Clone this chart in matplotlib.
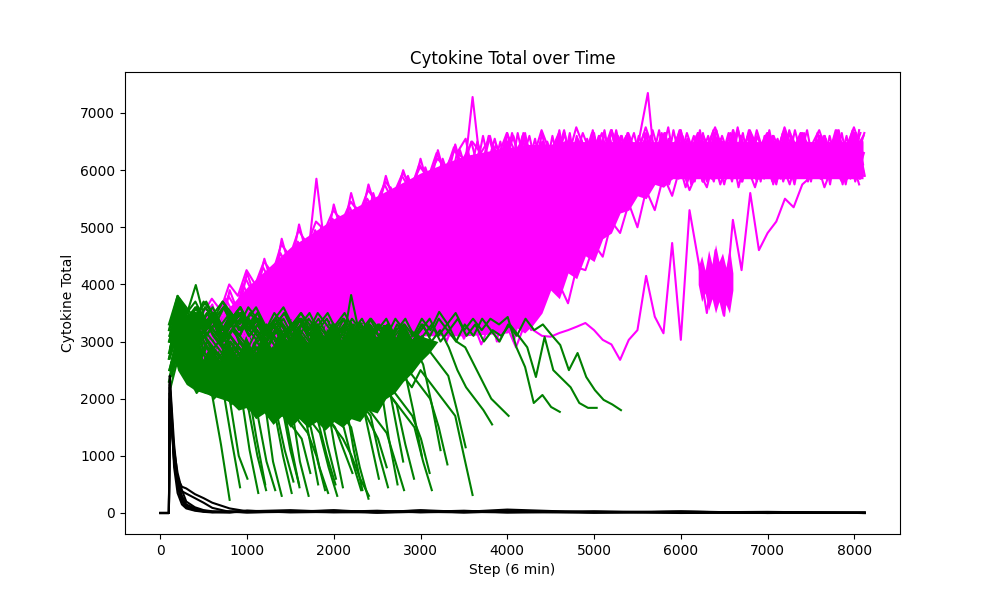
"""Cytokine total per simulated run, coloured by outcome."""

import matplotlib

matplotlib.use("Agg")
import matplotlib.pyplot as plt
import numpy as np

STEP = 100

MAGENTA_CORE_STEPS = [650, 1000, 1500, 2000, 2500, 3000, 3500, 4000, 4100, 4200,
                      4300, 4400, 4500, 4600, 4700, 4800, 4900, 5000, 5100, 5200,
                      5300, 5400, 5500, 5600, 5700, 5800, 5900, 7000, 8100]
MAGENTA_CORE_LOW = [3100, 3100, 3100, 3100, 3100, 3100, 3100, 3150, 3250, 3150,
                    3300, 3500, 3900, 3750, 4200, 4100, 4500, 4400, 4800, 4900,
                    5250, 5300, 5550, 5500, 5750, 5700, 5850, 5850, 5850]
MAGENTA_CORE_HIGH = [3350, 3950, 4650, 5150, 5550, 5950, 6250, 6400, 6400, 6450,
                     6450, 6450, 6450, 6500, 6500, 6500, 6500, 6500, 6500, 6500,
                     6500, 6500, 6500, 6500, 6500, 6500, 6500, 6500, 6500]

# the slow run's noisy stretch near step 6400
MAGENTA_DIP_STEPS = [6200, 6240, 6280, 6320, 6360, 6400, 6440, 6480, 6520, 6560, 6600]
MAGENTA_DIP_LOW = [4000, 3700, 3850, 3550, 3750, 3500, 3700, 3450, 3650, 3500, 3900]
MAGENTA_DIP_HIGH = [4300, 4500, 4250, 4600, 4350, 4700, 4400, 4550, 4300, 4650, 4200]

GREEN_CORE_STEPS = [150, 200, 300, 400, 500, 600, 700, 800, 900, 1000,
                    1100, 1200, 1300, 1400, 1500, 1600, 1700, 1800, 1900, 2000,
                    2100, 2200, 2300, 2400, 2500, 2600, 2700, 2800, 2900, 3000,
                    3100, 3200]
GREEN_CORE_LOW = [2800, 2500, 2250, 2150, 2100, 2050, 2000, 1950, 1800, 1850,
                  1650, 1750, 1550, 1700, 1500, 1650, 1500, 1600, 1450, 1600,
                  1500, 1650, 1600, 1800, 1750, 2000, 2100, 2300, 2450, 2650,
                  2800, 3000]
GREEN_CORE_HIGH = [3300, 3500, 3400, 3450, 3450, 3450, 3450, 3400, 3450, 3400,
                   3450, 3400, 3400, 3450, 3400, 3400, 3400, 3350, 3400, 3350,
                   3400, 3350, 3350, 3300, 3300, 3300, 3250, 3250, 3200, 3100,
                   3050, 3000]

# runs that climb to the high plateau (one value every 100 steps from each start)
MAGENTA_STARTS = [500, 520, 470, 510, 460, 490, 450, 480, 455, 475,
                  500, 500, 465, 485, 505, 515, 495, 455, 475]
MAGENTA_RUNS = [
    [3400, 3650, 3150, 3900, 3500, 4200, 3750, 4450, 3950, 4800,
     4250, 5050, 4450, 5850, 4600, 5400, 4850, 5600, 5050, 5750,
     5250, 5900, 5400, 6000, 5550, 6200, 5650, 6350, 5800, 6450,
     5900, 7280, 5950, 6600, 6000, 6650, 5900, 6600, 5850, 6650,
     5900, 6700, 5800, 6600, 6000, 6650, 5850, 6700, 5950, 6600,
     5800, 6650, 5900, 6600, 5850, 6700, 6000, 6650, 5800, 6600,
     5900, 6700, 5850, 6650, 5950, 6600, 5800, 6700, 5900, 6650,
     5850, 6600, 5950, 6700, 5800, 6650, 6000],
    [3100, 3400, 3000, 3600, 3250, 3850, 3400, 4050, 3600, 4300,
     3850, 4500, 4050, 4700, 4200, 4950, 4400, 5100, 4600, 5300,
     4800, 5450, 5000, 5600, 5200, 5800, 5400, 6000, 5600, 6300,
     6550, 5800, 6600, 5900, 6500, 5750, 6650, 5950, 6550, 5800,
     6600, 5900, 6650, 5750, 6550, 6000, 6700, 5850, 6600, 5900,
     6550, 7350, 5800, 6650, 5950, 6600, 5750, 6700, 5900, 6550,
     5850, 6650, 5900, 6600, 5800, 6700, 5950, 6550, 5850, 6650,
     5900, 6600, 5750, 6700, 5850, 6650, 5900],
    [2900, 3300, 2850, 3450, 3050, 3600, 3150, 3700, 3300, 3900,
     3450, 4050, 3600, 4250, 3750, 4400, 3900, 4550, 4050, 4700,
     4250, 4850, 4400, 5050, 4600, 5200, 4800, 5400, 5000, 5600,
     5300, 5900, 6300, 6000, 6450, 6100, 6600, 6050, 6300, 5800,
     6200, 6000, 6500, 6150, 6650, 6250, 5900, 6450, 6100, 6600,
     6000, 6400, 5850, 6300, 6550, 6100, 6650, 6200, 6000, 6500,
     6150, 6650, 6250, 5950, 6400, 6050, 6600, 6200, 6450, 5900,
     6300, 6100, 6550, 6000, 6450, 6200, 6650],
    [2800, 3150, 2750, 3300, 2900, 3400, 3000, 3500, 3100, 3650,
     3250, 3800, 3400, 3950, 3500, 4100, 3650, 4250, 3800, 4400,
     3950, 4550, 4100, 4700, 4250, 4850, 4400, 5000, 4600, 5200,
     4800, 5400, 5000, 5650, 5300, 6000, 5800, 6400, 5900, 6500,
     5750, 6300, 5850, 6550, 6050, 6400, 5800, 6250, 6600, 5950,
     6450, 5800, 6200, 6650, 6000, 6350, 5850, 6500, 6100, 6700,
     5950, 6300, 5800, 6500, 6050, 6650, 5900, 6350, 5750, 6550,
     6100, 5850, 6450, 6000, 6600, 5800, 6300],
    [3000, 3300, 2900, 3350, 3000, 3450, 3050, 3500, 3150, 3550,
     3250, 3700, 3300, 3800, 3400, 3900, 3500, 4000, 3600, 4150,
     3700, 4300, 3850, 4450, 4000, 4600, 4150, 4750, 4300, 4900,
     4500, 5100, 4700, 5300, 4900, 5500, 5150, 5800, 6200, 5900,
     6500, 6050, 6650, 5900, 6350, 6100, 6600, 5850, 6400, 6200,
     6650, 6000, 6300, 5900, 6550, 6150, 6450, 5800, 6600, 6250,
     6450, 5900, 6700, 6100, 6300, 5850, 6550, 6200, 6650, 5950,
     6400, 6150, 6600, 5900, 6350, 6550, 6050],
    [2700, 3000, 2650, 3100, 2750, 3150, 2800, 3250, 2900, 3300,
     3000, 3400, 3050, 3500, 3150, 3600, 3250, 3700, 3350, 3800,
     3450, 3950, 3550, 4100, 3700, 4250, 3850, 4400, 4000, 4550,
     4150, 4750, 4350, 4950, 4500, 5200, 4800, 5500, 5200, 5900,
     5800, 6350, 6000, 6500, 5850, 6250, 6650, 6050, 6400, 5800,
     6200, 6550, 5950, 6400, 6100, 6650, 5900, 6250, 6500, 6000,
     6350, 5800, 6600, 6150, 6450, 5950, 6250, 6700, 6000, 6400,
     5850, 6500, 6200, 6650, 5950, 6300, 6500],
    [2900, 3200, 2800, 3250, 2850, 3300, 2950, 3350, 3000, 3400,
     3050, 3450, 3100, 3500, 3150, 3550, 3200, 3600, 3250, 3650,
     3300, 3700, 3350, 3800, 3450, 3900, 3550, 4000, 3650, 4150,
     3800, 4300, 3950, 4500, 4100, 4700, 4300, 4950, 4600, 5300,
     5000, 5700, 6300, 5900, 6550, 6100, 6400, 5850, 6650, 6200,
     5950, 6450, 6050, 6700, 5850, 6350, 6150, 6600, 5800, 6400,
     6100, 6650, 5900, 6300, 6550, 6000, 6450, 5850, 6700, 6150,
     6350, 5950, 6600, 6100, 6450, 5900, 6550],
    [3100, 3350, 3000, 3400, 3050, 3450, 3100, 3500, 3150, 3550,
     3200, 3600, 3250, 3650, 3300, 3700, 3350, 3750, 3400, 3800,
     3300, 3700, 3200, 3650, 3150, 3600, 3250, 3700, 3300, 3750,
     3200, 3700, 3150, 3650, 3000, 3800, 3100, 3900, 3350, 4200,
     3900, 4500, 4300, 5000, 5400, 6000, 5800, 6400, 6000, 6550,
     5900, 6300, 6100, 6650, 5850, 6450, 6000, 6600, 6200, 5800,
     6500, 6050, 6350, 5900, 6600, 6200, 6450, 5800, 6300, 6650,
     6000, 6400, 5850, 6550, 6150, 6700, 5950],
    [3200, 3500, 3300, 3750, 3450, 4000, 3650, 4150, 3850, 4350,
     4550, 4100, 4800, 4300, 5000, 4500, 5200, 4700, 5350, 4900,
     5600, 5100, 5700, 5300, 5900, 5450, 6050, 5600, 6200, 5750,
     6350, 5850, 6500, 6000, 6550, 5950, 6650, 6100, 6600, 5900,
     6450, 6150, 6700, 5950, 6500, 6050, 6600, 5800, 6700, 6000,
     6450, 5850, 6600, 6100, 6750, 5900, 6500, 6050, 6650, 5850,
     6550, 6000, 6750, 5950, 6450, 6150, 6600, 5900, 6500, 6100,
     6700, 5900, 6550, 6050, 6650, 5850, 6700],
    [3000, 3350, 3100, 3550, 3250, 3700, 3400, 3850, 3500, 4000,
     3650, 4200, 3800, 4400, 3950, 4550, 4100, 4700, 4250, 4850,
     4400, 5000, 4550, 5150, 4750, 5350, 4950, 5550, 5150, 5800,
     5400, 6000, 5700, 6250, 5900, 6450, 6050, 6600, 5850, 6400,
     6100, 6550, 5900, 6350, 6150, 6650, 5950, 6250, 6600, 6050,
     6400, 5950, 6700, 6150, 6350, 5850, 6550, 6250, 6450, 6050,
     6600, 6150, 6400, 6000, 6700, 6200, 6350, 6050, 6600, 6250,
     5900, 6650, 6150, 6400, 6050, 6600, 6250],
    # slow run whose dip reaches 2700 near step 5300
    [2900, 3200, 2850, 3250, 2900, 3300, 2950, 3250, 3000, 3350,
     3050, 3350, 3000, 3400, 3100, 3450, 3050, 3400, 3150, 3500,
     3100, 3450, 3050, 3400, 3000, 3350, 3100, 3450, 3000, 3400,
     3050, 3350, 2950, 3300, 3000, 3250, 2900, 3300, 3200, 3100,
     3085, 3150, 3200, 3260, 3325, 3200, 3030, 2950, 2680, 3030,
     3200, 4150, 3435, 3145, 4725, 3030, 5300, 4430, 3500, 4600,
     3450, 5130, 4250, 5600, 4600, 4900, 5100, 5500, 5350, 5750,
     5885, 6300, 5900, 6500, 5950, 6650, 6100],
    # run that climbs back between step 4500 and 5700
    [3000, 3300, 2950, 3350, 3050, 3400, 3100, 3450, 3150, 3500,
     3200, 3550, 3250, 3600, 3300, 3650, 3350, 3700, 3400, 3750,
     3450, 3800, 3500, 3850, 3550, 3900, 3600, 3950, 3650, 4000,
     3700, 4100, 3750, 4200, 3800, 4300, 3900, 4400, 4000, 4500,
     4550, 4000, 3670, 4300, 4250, 4700, 4485, 5100, 4900, 5420,
     5000, 5650, 5300, 5900, 5550, 6100, 5650, 6000, 5700, 6300,
     5750, 6400, 5800, 6500, 5850, 6300, 5750, 6550, 5900, 6400,
     5800, 6600, 5950, 6450, 5750, 6500, 5900],
    [3200, 3500, 3150, 3600, 3250, 3700, 3300, 3750, 3400, 3800,
     3350, 3850, 3450, 3900, 3500, 3950, 3400, 3850, 3550, 4000,
     3600, 4050, 3500, 3950, 3650, 4100, 3550, 4000, 3700, 4150,
     3900, 4400, 3700, 4300, 3500, 4200, 3350, 4000, 3600, 4300,
     4900, 5500, 5900, 6200, 5800, 6450, 5750, 6300, 5900, 6550,
     5650, 6200, 5800, 6450, 5750, 6300, 5900, 6550, 5800, 6250,
     5950, 6500, 5700, 6350, 5850, 6600, 5750, 6450, 6000, 6300,
     5800, 6550, 5900, 6400, 5750, 6600, 5850],
    [3300, 3600, 3350, 3800, 3550, 4100, 3800, 4300, 4000, 4550,
     4250, 4750, 4450, 4950, 4650, 5150, 4850, 5350, 5000, 5500,
     5250, 5750, 5450, 5900, 5650, 6100, 5850, 6300, 5950, 6400,
     6000, 6500, 5900, 6600, 6050, 6550, 5850, 6650, 6000, 6500,
     5800, 6600, 6100, 6450, 5900, 6700, 6000, 6550, 5850, 6650,
     6050, 6500, 5800, 6600, 6150, 6700, 5900, 6450, 6000, 6650,
     5850, 6550, 6100, 6700, 5950, 6500, 5800, 6600, 6050, 6650,
     5900, 6500, 6150, 6700, 5850, 6600, 6000],
    [3100, 3450, 3150, 3600, 3300, 3750, 3450, 3900, 3600, 4050,
     3750, 4250, 3900, 4400, 4100, 4600, 4250, 4750, 4400, 4950,
     4600, 5100, 4750, 5300, 4950, 5450, 5150, 5650, 5350, 5850,
     5550, 6050, 5750, 6300, 5900, 6500, 6000, 6650, 5850, 6400,
     6150, 6600, 5950, 6300, 5750, 6550, 6100, 6700, 5900, 6350,
     6050, 6650, 5800, 6450, 6200, 6600, 5950, 6300, 5850, 6550,
     6100, 6700, 5950, 6400, 6200, 6650, 5800, 6350, 6050, 6600,
     5900, 6450, 6150, 6650, 5950, 6350, 6600],
    [2800, 3100, 2900, 3250, 3000, 3350, 3050, 3450, 3150, 3550,
     3300, 3650, 3400, 3800, 3500, 3900, 3600, 4050, 3700, 4200,
     3850, 4300, 3950, 4450, 4100, 4550, 4200, 4700, 4350, 4850,
     4500, 5000, 4700, 5200, 4900, 5450, 5150, 5700, 5500, 6000,
     6300, 5850, 6550, 6000, 6400, 5800, 6650, 6100, 6350, 5900,
     6600, 6200, 6450, 5850, 6700, 6000, 6350, 6150, 6600, 5900,
     6450, 6050, 6650, 5850, 6300, 6200, 6550, 5950, 6700, 6100,
     6400, 5850, 6600, 6000, 6350, 6150, 6650],
    [3500, 3750, 3550, 4000, 3800, 4250, 4000, 4400, 4200, 4700,
     4500, 4950, 4700, 5100, 4950, 5300, 5100, 5450, 5250, 5650,
     5450, 5800, 5600, 5950, 5750, 6050, 5900, 6200, 6050, 6350,
     6200, 6500, 6300, 6550, 6250, 6650, 6300, 6600, 6200, 6700,
     6300, 6650, 6200, 6750, 6350, 6600, 6250, 6700, 6400, 6650,
     6250, 6750, 6300, 6600, 6350, 6700, 6200, 6650, 6400, 6750,
     6300, 6600, 6250, 6700, 6350, 6650, 6200, 6750, 6300, 6600,
     6400, 6700, 6250, 6650, 6350, 6750, 6300],
    [3000, 3300, 3050, 3450, 3150, 3550, 3250, 3650, 3350, 3800,
     3500, 3950, 3650, 4100, 3800, 4250, 3950, 4400, 4100, 4550,
     4250, 4700, 4400, 4850, 4550, 5000, 4700, 5150, 4850, 5300,
     5000, 5450, 5150, 5600, 5350, 5800, 5600, 6050, 5750, 6150,
     5700, 6200, 5800, 6100, 5750, 6250, 5850, 6150, 5700, 6200,
     5800, 6300, 5750, 6100, 5850, 6250, 5700, 6150, 5800, 6300,
     5750, 6200, 5850, 6100, 5700, 6250, 5800, 6150, 5750, 6300,
     5850, 6200, 5700, 6100, 5800, 6250, 5750],
    [3050, 3350, 3100, 3450, 3200, 3550, 3250, 3600, 3350, 3700,
     3400, 3800, 3500, 3900, 3600, 4000, 3650, 4100, 3750, 4200,
     3800, 4300, 3900, 4400, 4000, 4500, 4100, 4600, 4200, 4700,
     4300, 4800, 3900, 4400, 3400, 4000, 3000, 3700, 3200, 3900,
     4500, 5200, 5700, 6200, 5900, 6450, 6000, 6600, 5800, 6350,
     6150, 6650, 5900, 6400, 6050, 6550, 5850, 6300, 6100, 6700,
     5950, 6450, 6200, 6600, 5800, 6350, 6050, 6650, 5900, 6500,
     6100, 6400, 5950, 6600, 6200, 6450, 6000],
]

# runs that fade out (one value every 100 steps from each start)
GREEN_STARTS = [100, 120, 105, 130, 110, 125, 100, 135, 115, 105,
                130, 110, 120, 100, 125, 140, 105, 115, 130, 100,
                120, 110, 135, 100, 125, 115, 105, 130, 110, 120,
                100, 125, 115, 105, 130, 110, 120, 100, 135, 115,
                105, 125, 110, 130, 120]
GREEN_RUNS = [
    [2700, 3300, 2600, 2300, 2150, 2050, 1200, 230],
    [2900, 3600, 3000, 2700, 2500, 2300, 2200, 1300, 450],
    [2500, 3100, 2700, 2400, 2200, 2350, 2100, 1950, 1000, 600],
    [3100, 3700, 3100, 3300, 2900, 2700, 2500, 2300, 2100, 1100, 350],
    [2800, 3300, 3500, 3990, 3400, 3100, 2900, 2600, 2400, 2200, 1300, 500],
    [2600, 3200, 2500, 2300, 2100, 2300, 2150, 2000, 2200, 1900, 1700, 900, 400],
    [3200, 3800, 3300, 3500, 3200, 3400, 3000, 2800, 2600, 2400, 2200, 2000, 900, 300],
    [2400, 3000, 2600, 2300, 2500, 2200, 2400, 2100, 2300, 2050, 1900, 2100, 1800, 1100, 550],
    [2900, 3500, 3000, 3200, 2800, 2600, 2800, 2500, 2300, 2500, 2200, 2000, 1800, 1000, 350],
    [3000, 3700, 3400, 3600, 3300, 3500, 3200, 3400, 3000, 2800, 2600, 2400, 2200, 2000,
     1200, 450],
    [2600, 3200, 2800, 2500, 2700, 2400, 2200, 2400, 2100, 2300, 2000, 2200, 1900, 1700,
     1500, 1300, 700],
    [3100, 3600, 3200, 2900, 3100, 2800, 2600, 2800, 2500, 2700, 2400, 2200, 2400, 2100,
     1900, 900, 300],
    [3300, 3750, 3500, 3300, 3600, 3400, 3700, 3500, 3200, 3400, 3100, 2900, 2700, 2500,
     2300, 2100, 1300, 500],
    [2300, 2900, 2500, 2200, 2400, 2100, 2300, 2000, 2200, 1900, 2100, 1800, 2000, 1700,
     1900, 1600, 1400, 1000, 400],
    [3000, 3650, 3300, 3500, 3200, 3400, 3100, 3300, 3500, 3200, 3000, 3200, 2900, 2700,
     2500, 2300, 2100, 1900, 1200, 600],
    [2700, 3300, 2900, 2700, 3000, 2800, 2600, 2900, 2700, 2500, 2300, 2600, 2400, 2200,
     2000, 1800, 1600, 1400, 800, 300],
    [3200, 3750, 3500, 3700, 3400, 3600, 3300, 3500, 3200, 3400, 3600, 3300, 3100, 3300,
     3000, 2800, 2600, 2400, 2100, 1200, 450],
    [2500, 3000, 2700, 2900, 2600, 2400, 2700, 2500, 2300, 2600, 2400, 2200, 2400, 2100,
     2300, 2000, 1800, 2000, 1700, 1500, 1100, 700],
    [3100, 3600, 3300, 3500, 3700, 3400, 3600, 3300, 3500, 3200, 3400, 3100, 3300, 3500,
     3200, 3000, 2800, 2600, 2400, 2200, 2000, 1100, 400],
    [2800, 3400, 3000, 2800, 3100, 2900, 2700, 3000, 2800, 2600, 2900, 2700, 2500, 2800,
     2600, 2400, 2600, 2300, 2100, 1900, 1700, 1500, 800, 250],
    [3000, 3700, 3400, 3600, 3300, 3500, 3700, 3400, 3600, 3300, 3500, 3200, 3400, 3600,
     3300, 3500, 3300, 3100, 2900, 2700, 2500, 2300, 2000, 1300, 600],
    [2400, 3000, 2700, 2900, 2600, 2800, 2500, 2700, 2900, 2600, 2400, 2600, 2300, 2500,
     2200, 2400, 2100, 2300, 2000, 2200, 1900, 1700, 1900, 1600, 1300, 800],
    [3200, 3600, 3400, 3200, 3500, 3300, 3600, 3400, 3200, 3500, 3300, 3100, 3400, 3200,
     3000, 3300, 3100, 2900, 3200, 3000, 2800, 2600, 2800, 2500, 2300, 1300, 500],
    [3000, 3500, 3300, 3500, 3200, 3400, 3100, 3300, 3500, 3200, 3400, 3100, 3300, 3000,
     3200, 3400, 3100, 3300, 3000, 3200, 2900, 3815, 3100, 2900, 2700, 2500, 1700, 900],
    [2600, 3200, 2800, 3000, 2700, 2900, 3100, 2800, 3000, 2700, 2900, 2600, 2800, 3000,
     2700, 2900, 2600, 2400, 2700, 2500, 2800, 2600, 2400, 2600, 2300, 2100, 1900, 1200, 600],
    [3100, 3700, 3500, 3300, 3600, 3400, 3200, 3500, 3300, 3600, 3400, 3200, 3500, 3300,
     3100, 3400, 3200, 3500, 3300, 3100, 3400, 3200, 3000, 3300, 3100, 2900, 2700, 2500,
     1800, 1000],
    [2300, 2900, 2600, 2800, 2500, 2700, 2400, 2600, 2800, 2500, 2300, 2600, 2400, 2700,
     2500, 2300, 2600, 2400, 2200, 2500, 2300, 2100, 2400, 2200, 2000, 2300, 2100, 1900,
     1700, 1300, 700],
    [3000, 3550, 3300, 3500, 3200, 3400, 3600, 3300, 3500, 3200, 3400, 3100, 3300, 3500,
     3200, 3400, 3100, 3300, 3500, 3200, 3000, 3300, 3100, 3400, 3200, 3000, 3300, 3100,
     2900, 2600, 1900, 1100],
    [2800, 3400, 3100, 2900, 3200, 3000, 2800, 3100, 2900, 2700, 3000, 2800, 3100, 2900,
     2700, 3000, 2800, 2600, 2900, 2700, 3000, 2800, 2600, 2900, 2700, 2500, 2800, 2600,
     2400, 2200, 2000, 1500, 850],
    [2900, 3500, 3200, 3400, 3100, 3300, 3000, 3200, 3400, 3100, 3300, 3000, 3200, 3400,
     3100, 3300, 3500, 3200, 3400, 3100, 3300, 3000, 3200, 3400, 3100, 3300, 3000, 3200,
     2900, 3100, 2800, 2600, 2400, 1800, 1150],
    [2700, 3300, 2900, 2700, 3000, 2800, 2600, 2900, 2700, 2500, 2800, 2600, 2900, 2700,
     2500, 2800, 2600, 2400, 2700, 2500, 2800, 2600, 2400, 2700, 2500, 2300, 2600, 2400,
     2200, 2500, 2300, 2100, 1900, 1700, 1000, 315],
    [3100, 3650, 3400, 3600, 3300, 3500, 3200, 3400, 3600, 3300, 3500, 3200, 3400, 3100,
     3300, 3500, 3200, 3400, 3100, 3300, 3500, 3200, 3400, 3100, 3300, 3000, 3200, 3400,
     3100, 3300, 3000, 3200, 2900, 2500, 2200, 2000, 1800, 1550],
    [3000, 3500, 3300, 3100, 3400, 3200, 3000, 3300, 3100, 3400, 3200, 3000, 3300, 3100,
     2900, 3200, 3000, 3300, 3100, 2900, 3200, 3000, 3300, 3100, 2900, 3200, 3000, 3300,
     3100, 3400, 3200, 3520, 3300, 3000, 2900, 2600, 2300, 2000, 1850, 1700],
    [3100, 3600, 3300, 3500, 3200, 3400, 3100, 3300, 3500, 3200, 3400, 3100, 3300, 3000,
     3200, 3400, 3100, 3300, 3000, 3200, 3400, 3100, 3300, 3000, 3200, 3400, 3100, 3300,
     3000, 3200, 3400, 3100, 3300, 3500, 3200, 3400, 3200, 3400, 3300, 3430, 2900, 2555,
     1925, 2065, 1855, 1770],
    [2900, 3500, 3200, 3400, 3100, 3300, 3000, 3200, 3400, 3100, 3300, 3000, 3200, 2900,
     3100, 3300, 3000, 3200, 2900, 3100, 3300, 3000, 3200, 2900, 3100, 3300, 3000, 3200,
     2900, 3100, 3300, 3000, 3200, 3400, 3100, 3300, 3000, 3200, 3100, 3300, 3100, 2900,
     2380, 3080, 2500, 2350, 2200, 1925, 1840, 1840],
    [3000, 3550, 3300, 3100, 3400, 3200, 3000, 3300, 3100, 3400, 3200, 3000, 3300, 3100,
     3300, 3100, 3400, 3200, 3000, 3300, 3100, 3400, 3200, 3000, 3300, 3100, 3400, 3200,
     3000, 3300, 3100, 3400, 3200, 3000, 3300, 3100, 3400, 3200, 3000, 3300, 3100, 3400,
     3200, 3300, 3115, 2940, 2500, 2800, 2380, 2150, 1980, 1900, 1800],
    [2200, 2800, 2400, 2100, 2300, 2000, 2200, 1900, 2100, 1800, 1000, 400],
    [3300, 3800, 3600, 3400, 3700, 3500, 3300, 3100, 2900, 2700, 2500, 2300, 2100, 1900,
     1100, 500],
    [2600, 3100, 2800, 2600, 2900, 2700, 2500, 2300, 2500, 2200, 2400, 2100, 1900, 2000,
     1800, 1700, 1500, 800, 350],
    [3000, 3600, 3300, 3100, 3400, 3200, 3000, 3300, 3100, 2900, 3200, 3000, 2800, 2600,
     2800, 2500, 2300, 2100, 1900, 1700, 1500, 900, 400],
    [2500, 3000, 2800, 2600, 2400, 2700, 2500, 2300, 2600, 2400, 2200, 2500, 2300, 2100,
     2300, 2000, 1800, 2000, 1700, 1500, 1300, 1000, 600, 300],
    [3200, 3700, 3400, 3600, 3300, 3500, 3200, 3400, 3600, 3300, 3100, 3300, 3000, 3200,
     2900, 3100, 2800, 3000, 2700, 2500, 2300, 2100, 1900, 1700, 1000, 450],
    [2700, 3200, 3000, 2800, 3100, 2900, 2700, 3000, 2800, 2600, 2900, 2700, 2500, 2800,
     2600, 2400, 2700, 2500, 2300, 2600, 2400, 2200, 2000, 1800, 1600, 1400, 900, 400],
    [2900, 3400, 3200, 3000, 3300, 3100, 2900, 3200, 3000, 2800, 3100, 2900, 3200, 3000,
     2800, 3100, 2900, 2700, 3000, 2800, 2600, 2900, 2700, 2500, 2300, 2100, 1900, 1700,
     1500, 900, 400],
    [2400, 2900, 2600, 2400, 2200, 2500, 2300, 2100, 2400, 2200, 2000, 2300, 2100, 1900,
     2200, 2000, 1800, 1600, 1000, 500],
]

# runs that clear quickly; each value belongs to the step at the same index
BLACK_STEPS = [0, 100, 110, 130, 160, 200, 250, 300, 400, 500, 600, 800,
               1000, 1500, 2000, 2500, 3000, 3500, 4000, 5000, 6000, 7000, 8120]
BLACK_RUNS = [
    [0, 0, 2400, 1900, 1200, 600, 250, 120, 60, 30, 20, 10, 40, 20, 50, 10, 30, 20, 60, 10, 20, 10, 0],
    [0, 0, 2200, 1700, 1000, 450, 200, 100, 50, 30, 15, 10, 30, 50, 20, 40, 10, 30, 20, 10, 30, 0, 10],
    [0, 0, 2000, 1600, 900, 500, 300, 150, 80, 40, 20, 30, 10, 20, 30, 10, 50, 20, 10, 30, 10, 20, 0],
    [0, 0, 1800, 1500, 1100, 700, 400, 200, 100, 50, 30, 20, 40, 10, 20, 30, 20, 40, 10, 20, 0, 10, 0],
    [0, 0, 2300, 1800, 1000, 600, 460, 430, 330, 260, 180, 80, 30, 30, 10, 20, 40, 10, 30, 20, 10, 0, 10],
    [0, 0, 2100, 1700, 900, 500, 380, 340, 260, 180, 90, 20, 30, 20, 40, 10, 20, 30, 20, 10, 20, 10, 0],
    [0, 0, 2250, 1650, 800, 350, 150, 80, 40, 20, 10, 20, 10, 30, 20, 10, 20, 10, 30, 10, 20, 10, 0],
]


def _steps(start: int, values: list[int]) -> np.ndarray:
    return start + STEP * np.arange(len(values))


def main() -> None:
    fig, ax = plt.subplots(figsize=(10, 6), dpi=100)

    # magenta bundle: solid middle, then the individual runs for the ragged edges
    ax.fill_between(MAGENTA_CORE_STEPS, MAGENTA_CORE_LOW, MAGENTA_CORE_HIGH,
                    color="magenta", linewidth=0)
    ax.fill_between(MAGENTA_DIP_STEPS, MAGENTA_DIP_LOW, MAGENTA_DIP_HIGH,
                    color="magenta", linewidth=0)
    for start, run in zip(MAGENTA_STARTS, MAGENTA_RUNS):
        ax.plot(_steps(start, run), run, color="magenta")

    ax.fill_between(GREEN_CORE_STEPS, GREEN_CORE_LOW, GREEN_CORE_HIGH,
                    color="green", linewidth=0)
    for start, run in zip(GREEN_STARTS, GREEN_RUNS):
        ax.plot(_steps(start, run), run, color="green")

    for run in BLACK_RUNS:
        ax.plot(BLACK_STEPS, run, color="black")

    ax.set_title("Cytokine Total over Time")
    ax.set_xlabel("Step (6 min)")
    ax.set_ylabel("Cytokine Total")

    fig.savefig("out.png", dpi=100)
    plt.close(fig)


if __name__ == "__main__":
    main()
